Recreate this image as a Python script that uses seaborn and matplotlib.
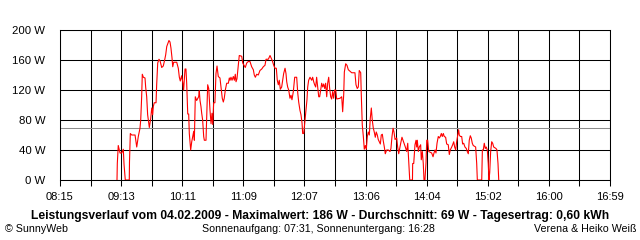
import matplotlib
matplotlib.use("Agg")
import matplotlib.pyplot as plt
import seaborn as sns
import pandas as pd

# --- data (minutes since midnight, watts) ---
minutes = [
    549.3, 549.6, 550.5, 552.2, 553.8, 555.3, 556.0, 557.2, 561.0, 561.2,
    562.0, 563.3, 566.5, 568.1, 569.6, 571.2, 571.9, 572.8, 573.4, 574.4,
    576.0, 576.6, 577.6, 578.5, 579.5, 580.1, 581.4, 582.4, 583.3, 583.9,
    584.8, 586.5, 587.1, 588.1, 589.3, 590.3, 591.9, 593.4, 594.7, 595.7,
    596.7, 598.8, 599.8, 600.7, 601.7, 602.4, 603.3, 606.2, 607.7, 608.7,
    609.6, 610.9, 611.9, 612.8, 614.1, 615.0, 615.7, 616.7, 617.6, 618.2,
    619.5, 620.5, 621.4, 622.4, 623.0, 623.9, 625.2, 627.1, 627.7, 628.4,
    629.3, 630.0, 630.9, 631.9, 632.5, 634.1, 634.8, 635.7, 636.7, 637.9,
    638.9, 639.8, 640.5, 641.4, 642.6, 643.6, 644.6, 645.8,
    647.4, 648.4, 649.6, 650.6, 651.5, 652.5, 653.8, 655.4, 656.3, 657.0,
    657.9, 658.9, 660.1, 661.1, 662.0, 662.7, 663.6, 664.9, 665.8, 668.1,
    669.1, 670.3, 671.5, 672.9, 674.4, 676.0, 677.6, 679.2, 680.1, 681.1,
    682.4, 683.9, 685.5, 687.2, 688.7, 690.3, 691.3, 693.5, 695.1, 696.0,
    697.3, 698.6, 699.8, 701.1, 702.0, 703.0, 703.9, 704.9, 706.2, 707.2,
    708.1, 709.4, 710.3, 711.0, 711.9, 712.9, 714.1, 715.1, 716.0, 717.3,
    718.6, 720.5, 721.5, 722.4, 723.6, 724.6, 725.6, 726.2, 727.2, 728.4,
    729.4, 730.3, 731.0, 731.9, 733.2, 734.8, 735.7, 736.7, 737.6, 738.6,
    739.5, 740.5, 741.5, 742.4, 743.4, 744.3, 745.3, 746.2, 747.2, 748.1,
    749.1, 750.0, 751.0, 751.9, 752.9, 753.8, 754.8, 755.7, 756.7, 757.7,
    758.6, 761.8, 763.4, 764.3, 765.3, 765.9, 767.2, 768.4, 769.7, 771.3,
    772.9, 776.0, 777.0, 778.2, 779.2, 780.1, 781.5, 782.0, 783.0, 784.0,
    784.9, 785.9, 786.8, 787.8, 788.7, 789.7, 790.6, 791.6, 792.5, 793.5,
    794.4, 795.4, 796.3, 797.3, 798.2, 799.2, 800.2, 801.1, 802.1, 803.0,
    804.0, 804.9, 806.2, 807.8, 809.4, 810.3, 811.3, 812.3, 813.2, 814.2,
    815.8, 816.7, 817.7, 818.6, 819.6, 820.8, 821.8, 823.0, 824.0, 825.3,
    826.3, 827.2, 828.2,
    830.8, 831.0, 832.0, 833.2, 834.2, 834.8, 835.4, 836.4, 837.3, 838.6,
    839.2, 840.2, 841.1, 841.8, 842.7, 843.7, 844.4, 845.3, 846.3, 849.1,
    850.4, 851.3, 852.3, 853.2, 854.2, 855.4, 856.4, 857.3, 858.3, 859.2,
    860.2, 861.1, 862.4, 863.4, 864.9, 865.9, 866.8, 868.2, 869.1, 870.1,
    871.0, 872.0, 872.9, 873.9, 874.8, 875.4, 876.4, 877.7, 878.6, 879.6,
    880.8, 882.1, 883.0, 884.0, 884.9, 885.9, 886.8, 887.8, 888.7, 891.0,
    892.0, 892.6, 896.8, 897.4, 898.3, 899.2, 900.2, 901.1, 902.1, 903.0,
    903.7, 904.4, 905.3, 906.3, 907.2, 908.2, 910.4, 911.3, 912.3, 913.0,
]
watts = [
    0, 22, 46, 36, 36, 41, 21, 0, 0, 24,
    62, 60, 60, 44, 58, 69, 80, 111, 141, 137,
    136, 124, 111, 87, 76, 70, 82, 96, 87, 98,
    103, 103, 127, 156, 161, 159, 150, 152, 160, 167,
    178, 186, 184, 176, 163, 151, 157, 157, 149, 137,
    132, 139, 131, 120, 148, 148, 129, 88, 88, 62,
    40, 51, 58, 65, 53, 111, 106, 111, 119, 106,
    98, 89, 80, 58, 53, 53, 84, 127, 122, 93,
    75, 89, 74, 103, 103, 142, 152, 138,
    136, 124, 109, 104, 109, 120, 129, 129, 136, 133,
    137, 133, 138, 133, 141, 131, 135, 153, 166, 165,
    156, 153, 150, 156, 158, 158, 151, 147, 140, 137,
    141, 140, 146, 148, 151, 153, 161, 161, 166, 163,
    159, 153, 149, 149, 133, 127, 133, 121, 124, 133,
    142, 149, 142, 131, 124, 120, 109, 113, 107, 118,
    137, 137, 116, 104, 93, 87, 76, 62, 62, 80,
    96, 107, 124, 133, 137, 133, 137, 131, 127, 124,
    137, 124, 111, 111, 121, 129, 124, 128, 122, 129,
    111, 129, 137, 122, 111, 108, 118, 109, 120, 120,
    108, 109, 111, 91, 114, 144, 155, 153, 147, 145,
    143, 143, 127, 122, 124, 146, 143, 116, 73, 58,
    41, 46, 41, 58, 64, 60, 82, 96, 80, 69,
    64, 57, 64, 60, 54, 51, 48, 60, 61, 52,
    44, 35, 40, 40, 38, 42, 58, 69, 64, 54,
    56, 44, 35, 42, 49, 57, 53, 48, 44, 38,
    49, 27, 0,
    0, 22, 22, 47, 53, 44, 53, 38, 44, 47,
    27, 38, 22, 0, 0, 23, 53, 53, 38, 36,
    31, 36, 40, 36, 49, 58, 56, 58, 62, 58,
    62, 58, 57, 48, 47, 34, 40, 44, 47, 51,
    44, 40, 51, 59, 67, 60, 58, 58, 48, 49,
    44, 42, 38, 35, 53, 59, 56, 49, 46, 44,
    22, 0, 0, 40, 40, 49, 42, 44, 40, 22,
    0, 10, 38, 51, 49, 44, 42, 40, 22, 0,
]
average_w = 69
tick_labels = ["08:15", "09:13", "10:11", "11:09", "12:07",
               "13:06", "14:04", "15:02", "16:00", "16:59"]
y_ticks = [0, 40, 80, 120, 160, 200]
title = ("Leistungsverlauf vom 04.02.2009 - Maximalwert: 186 W - "
         "Durchschnitt: 69 W - Tagesertrag: 0,60 kWh")
footer_left = "\u00a9 SunnyWeb"
footer_mid = "Sonnenaufgang: 07:31, Sonnenuntergang: 16:28"
footer_right = "Verena & Heiko Wei\u00df"

df = pd.DataFrame({"t": minutes, "w": watts})

sns.set_style("white")
plt.rcParams["font.family"] = ["Liberation Sans", "DejaVu Sans"]

fig = plt.figure(figsize=(6.4, 2.4), dpi=100)
ax = fig.add_axes([60 / 640, 60 / 240, 550 / 640, 150 / 240])

def to_min(s):
    h, m = s.split(":")
    return int(h) * 60 + int(m)

x0, x1 = to_min(tick_labels[0]), to_min(tick_labels[-1])
n_half = 2 * (len(tick_labels) - 1)
grid_x = [x0 + (x1 - x0) * k / n_half for k in range(n_half + 1)]

lw = 0.75
for gx in grid_x:
    ax.axvline(gx, color="black", lw=lw, zorder=1)
for gy in y_ticks:
    ax.axhline(gy, color="black", lw=lw, zorder=1)
ax.axhline(average_w, color="#8c8c8c", lw=lw, zorder=2)

sns.lineplot(data=df, x="t", y="w", color="#ff0000", lw=0.8,
             estimator=None, sort=False, ax=ax, zorder=3)

ax.set_xlim(x0, x1)
ax.set_ylim(0, 200)
ax.set_xticks(grid_x)
ax.set_xticklabels([tick_labels[k // 2] if k % 2 == 0 else "" for k in range(n_half + 1)])
ax.set_yticks(y_ticks)
ax.set_yticklabels([f"{v} W" for v in y_ticks])
ax.set_xlabel("")
ax.set_ylabel("")
ax.tick_params(axis="x", bottom=True, length=4, width=lw, color="black",
               pad=5, labelsize=8, labelcolor="black")
ax.tick_params(axis="y", left=False, pad=7, labelsize=8.2, labelcolor="black")
for sp in ax.spines.values():
    sp.set_color("black")
    sp.set_linewidth(lw)
    sp.set_visible(True)

fig.text(320 / 640, 1 - 216 / 240, title, ha="center", va="center",
         fontsize=8.7, fontweight="bold", color="black")
fig.text(5 / 640, 1 - 229 / 240, footer_left, ha="left", va="center",
         fontsize=7.7, color="black")
fig.text(318 / 640, 1 - 229 / 240, footer_mid, ha="center", va="center",
         fontsize=7.7, color="black")
fig.text(636 / 640, 1 - 229 / 240, footer_right, ha="right", va="center",
         fontsize=7.7, color="black")

fig.savefig("out.png", dpi=100, facecolor="white")
